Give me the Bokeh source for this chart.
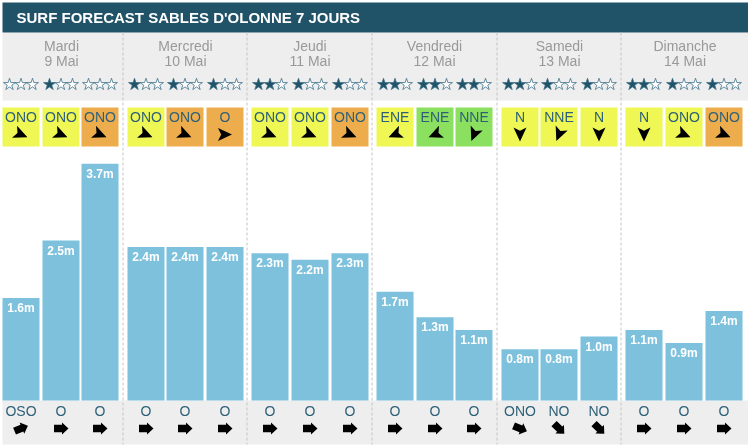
import math
from bokeh.plotting import figure
from bokeh.models import ColumnDataSource, Range1d
from bokeh.core.properties import value
from bokeh.embed import file_html
from bokeh.resources import INLINE

title = "SURF FORECAST SABLES D'OLONNE 7 JOURS"
days = ["Mardi", "Mercredi", "Jeudi", "Vendredi", "Samedi", "Dimanche"]
dates = ["9 Mai", "10 Mai", "11 Mai", "12 Mai", "13 Mai", "14 Mai"]
heights = [1.6, 2.5, 3.7, 2.4, 2.4, 2.4, 2.3, 2.2, 2.3, 1.7, 1.3, 1.1, 0.8, 0.8, 1.0, 1.1, 0.9, 1.4]
stars = [0, 1, 0, 1, 1, 1, 2, 1, 1, 2, 2, 2, 2, 1, 1, 2, 1, 1]
wind_dir = ["ONO", "ONO", "ONO", "ONO", "ONO", "O", "ONO", "ONO", "ONO", "ENE", "ENE", "NNE", "N", "NNE", "N", "N", "ONO", "ONO"]
wind_rating = ["y", "y", "o", "y", "o", "o", "y", "y", "o", "y", "g", "g", "y", "y", "y", "y", "y", "o"]
swell_dir = ["OSO", "O", "O", "O", "O", "O", "O", "O", "O", "O", "O", "O", "ONO", "NO", "NO", "O", "O", "O"]

BEARING = {"N": 0, "NNE": 22.5, "ENE": 67.5, "O": 270, "OSO": 247.5, "ONO": 292.5, "NO": 315}
RATING = {"y": "#eef753", "o": "#edad4d", "g": "#8ce05f"}

W, H, BASE, PPM = 748, 446, 400, 64
slot_left = [2, 42, 81, 127, 166, 206, 251, 291, 331, 376, 416, 455, 501, 540, 580, 625, 665, 705]
slot_w = 37
dividers = [122.5, 246.5, 371.5, 496.5, 620.5]
day_centres = [61, 185, 309.5, 434, 559, 684.5]
navy, star_c, label_c, grey_t = "#205368", "#205368", "#2d6078", "#999999"

def yv(px):
    return (BASE - px) / PPM

p = figure(width=W, height=H, output_backend="svg", toolbar_location=None,
           x_range=Range1d(0, W), y_range=Range1d(yv(H), yv(0)),
           min_border=0, outline_line_color=None, background_fill_color="white")
p.styles = {"position": "fixed", "left": "0px", "top": "0px"}
p.xaxis.visible = False
p.yaxis.visible = False
p.grid.visible = False

def band(x0, x1, y0, y1, c):
    p.quad(left=[x0], right=[x1], top=[yv(y0)], bottom=[yv(y1)], fill_color=c, line_color=None)

band(2, W, 32, 100, "#eeeeee")
band(2, W, 400, 444, "#eeeeee")
band(2, W, 2, 32, navy)

for d in dividers:
    p.line([d, d], [yv(32), yv(444)], line_color="#c4c4c4", line_width=1, line_dash="3 2")

def txt(x, y, t, size, color, style="normal"):
    p.text(x=x, y=[yv(v) for v in y], text=t, text_font=value("Liberation Sans"),
           text_font_size=value(size), text_color=color, text_align="center",
           text_baseline="middle", text_font_style=style)

p.text(x=[16], y=[yv(17)], text=[title], text_font=value("Liberation Sans"),
       text_font_size=value("15px"), text_font_style="bold", text_color="white",
       text_align="left", text_baseline="middle")
txt(day_centres, [45] * 6, days, "14px", grey_t)
txt(day_centres, [60] * 6, dates, "14px", grey_t)

left = slot_left
right = [l + slot_w for l in left]
centre = [l + slot_w / 2 for l in left]

# bars
src = ColumnDataSource(dict(left=left, right=right, top=heights, bottom=[0] * 18))
p.quad(left="left", right="right", top="top", bottom="bottom", source=src,
       fill_color="#7dc1dd", line_color=None)
txt(centre, [BASE - h * PPM + 10 for h in heights], [f"{h:.1f}m" for h in heights], "12px", "white", "bold")

# wind boxes
p.quad(left=left, right=right, top=[yv(107)] * 18, bottom=[yv(146)] * 18,
       fill_color=[RATING[r] for r in wind_rating], line_color=None)
txt(centre, [116] * 18, wind_dir, "14px", label_c)

# swell labels
txt(centre, [410] * 18, swell_dir, "14px", label_c)

# stars
sx, sy, sf = [], [], []
for c, n in zip(centre, stars):
    for k in range(3):
        sx.append(c - 11.5 + 11.5 * k)
        sy.append(yv(84))
        sf.append(star_c if k < n else "white")
p.scatter(sx, sy, marker="star", size=12.5, fill_color=sf, line_color="#3c7088", line_width=0.8)

def rot(shape, cx, cy, deg):
    a = math.radians(deg)
    xs, ys = [], []
    for u, v in shape:
        xs.append(cx + u * math.cos(a) + v * math.sin(a))
        ys.append(yv(cy) + (-u * math.sin(a) + v * math.cos(a)) / PPM)
    return xs, ys

# shapes drawn for a mark pointing north (u right, v up), pixels
DART = [(0, 7), (6.5, -7), (0, -3.8), (-6.5, -7)]
BLOCK = [(0, 7.5), (6, 1), (3.7, 1), (3.7, -7), (-3.7, -7), (-3.7, 1), (-6, 1)]

xs, ys = [], []
for c, d in zip(centre, wind_dir):
    a, b = rot(DART, c, 134, (BEARING[d] + 180) % 360)
    xs.append(a); ys.append(b)
p.patches(xs, ys, fill_color="black", line_color=None)

xs, ys = [], []
for c, d in zip(centre, swell_dir):
    a, b = rot(BLOCK, c, 428, (BEARING[d] + 180) % 360)
    xs.append(a); ys.append(b)
p.patches(xs, ys, fill_color="black", line_color=None)

open("out.html", "w").write(file_html(p, INLINE))
